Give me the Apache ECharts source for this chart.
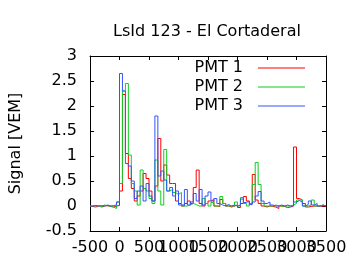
<!DOCTYPE html>
<html>
<head>
<meta charset="utf-8">
<script src="https://cdn.jsdelivr.net/npm/echarts@6/dist/echarts.min.js"></script>
<style>html,body{margin:0;padding:0;background:#fff}#c{width:360px;height:270px}</style>
</head>
<body>
<div id="c"></div>
<script>
const titleText = 'LsId 123 - El Cortaderal';
const yName = 'Signal [VEM]';
const seriesNames = ['PMT 1', 'PMT 2', 'PMT 3'];
const xTicks = [-500, 0, 500, 1000, 1500, 2000, 2500, 3000, 3500];
const yTicks = [-0.5, 0, 0.5, 1, 1.5, 2, 2.5, 3];
const times = [-500,-450,-400,-350,-300,-250,-200,-150,-100,-50,
  0,50,100,150,200,250,300,350,400,450,
  500,550,600,650,700,750,800,850,900,950,
  1000,1050,1100,1150,1200,1250,1300,1350,1400,1450,
  1500,1550,1600,1650,1700,1750,1800,1850,1900,1950,
  2000,2050,2100,2150,2200,2250,2300,2350,2400,2450,
  2500,2550,2600,2650,2700,2750,2800,2850,2900,2950,
  3000,3050,3100,3150,3200,3250,3300,3350,3400,3450];
const traceEnd = 3500;
const pmt1 = [-0.01,-0.02,0,-0.02,0,0.01,-0.01,-0.02,0,0.01,
  0.3,2.23,1.05,0.55,0.35,0.1,0.2,0.3,0.65,0.55,
  0.3,0.1,0.4,1.35,0.5,0.82,0.62,0.45,0.45,0.1,
  0.05,0,0.05,0.1,0.05,0.37,0.72,0.05,0,0.05,
  0.1,0.13,0,-0.01,0.13,0.05,0,-0.02,0,0.02,
  -0.03,0.05,0.19,0.1,0.05,0.63,0.12,0.05,0,-0.02,
  0,-0.01,-0.02,-0.05,0,-0.01,-0.03,-0.02,0,1.18,
  0.15,0.12,0.05,-0.02,-0.01,0,0,-0.01,0,0];
const pmt2 = [0,0.01,0,-0.01,0.02,0,0,-0.02,-0.05,0.08,
  0.45,2.3,2.45,1.02,0.45,0.3,0.02,0.72,0.35,0.3,
  0.15,0.05,0.92,0.3,0.02,1.13,0.3,0.33,0.27,0.23,
  0.27,0,0,0.02,0.05,0.03,0,0,0.15,0.05,
  0,0.07,0,0,0.19,0.05,0,0,0,0.08,
  0,0.17,0.05,0,0.05,0.43,0.87,0.43,0.05,0,
  0,0,0.02,0,0,0,0,0,0.02,0.05,
  0.12,0.12,0,0,0.02,0.12,0,0,0.02,0];
const pmt3 = [0,0.01,0,0.01,0,0.02,0,0.01,0.02,0.08,
  2.65,2.3,0.85,0.8,0.5,0.15,0.3,0.4,0.1,0.45,
  0.2,0.1,1.8,0.6,0.7,0.52,0.3,0.37,0.2,0.3,
  0.02,0.02,0.33,0.02,0.08,0.25,0.1,0.33,0.02,0.2,
  0.28,0.1,0.15,0.05,0.02,0,0.03,0,0.02,0,
  0.02,0.14,0.07,0.1,0.03,0.08,0.2,0.29,0.1,0.05,
  0.08,0.02,0,0,0.02,0,0.02,0,0,0.08,
  0.11,0.08,0,0.03,0.1,0.02,0.05,0,0.02,0];
const colors = ['#ff0000', '#11cc22', '#3355ff'];

const FONT = 'DejaVu Sans';
const xMax = xTicks[xTicks.length - 1];
function toData(vals) {
  const d = times.map((t, i) => [t, vals[i]]);
  d.push([traceEnd, vals[vals.length - 1]]);
  return d;
}
const axisLineStyle = { show: true, onZero: false, lineStyle: { color: '#000', width: 1 } };
const tick = { show: true, inside: true, length: 4, lineStyle: { color: '#000' } };
const labelFont = { fontFamily: FONT, fontSize: 16, color: '#000' };
const xBase = {
  type: 'value', min: xTicks[0], max: xMax,
  interval: xTicks[1] - xTicks[0], splitLine: { show: false },
  axisLine: axisLineStyle, axisTick: tick
};
const yBase = {
  type: 'value', min: yTicks[0], max: yTicks[yTicks.length - 1],
  interval: yTicks[1] - yTicks[0], splitLine: { show: false },
  axisLine: axisLineStyle, axisTick: tick
};
const chart = echarts.init(document.getElementById('c'), null, { renderer: 'canvas' });
chart.setOption({
  animation: false,
  backgroundColor: '#fff',
  title: {
    text: titleText, left: 202, top: 19, textAlign: 'center',
    textStyle: { fontFamily: FONT, fontSize: 16, fontWeight: 'normal', color: '#000' }
  },
  legend: {
    orient: 'vertical', right: 50, top: 53.5, align: 'right',
    itemWidth: 47, itemHeight: 1, itemGap: 0, icon: 'rect',
    data: seriesNames,
    textStyle: { fontFamily: FONT, fontSize: 16, color: '#000', lineHeight: 19, padding: [0, 10, 0, 0] }
  },
  grid: { left: 90, right: 34, top: 56, bottom: 39 },
  xAxis: [
    Object.assign({}, xBase, { position: 'bottom',
      axisLabel: Object.assign({ margin: 9, formatter: v => (v === xMax ? '' : String(v)) }, labelFont) }),
    Object.assign({}, xBase, { position: 'top', axisLabel: { show: false } }),
    Object.assign({}, xBase, { position: 'bottom', axisLine: { show: false }, axisTick: { show: false },
      axisLabel: Object.assign({ margin: 9, formatter: v => (v === xMax ? String(v) : '') }, labelFont) })
  ],
  yAxis: [
    Object.assign({}, yBase, { position: 'left', name: yName, nameLocation: 'middle', nameGap: 66,
      nameTextStyle: { fontFamily: FONT, fontSize: 16, color: '#000' },
      axisLabel: Object.assign({ margin: 13, formatter: v => String(v) }, labelFont) }),
    Object.assign({}, yBase, { position: 'right', axisLabel: { show: false } })
  ],
  series: [pmt1, pmt2, pmt3].map((vals, k) => ({
    name: seriesNames[k], type: 'line', step: 'end', symbol: 'none',
    xAxisIndex: 0, yAxisIndex: 0,
    data: toData(vals), color: colors[k],
    itemStyle: { color: colors[k] },
    lineStyle: { width: 1, color: colors[k] }
  }))
});
</script>
</body>
</html>
